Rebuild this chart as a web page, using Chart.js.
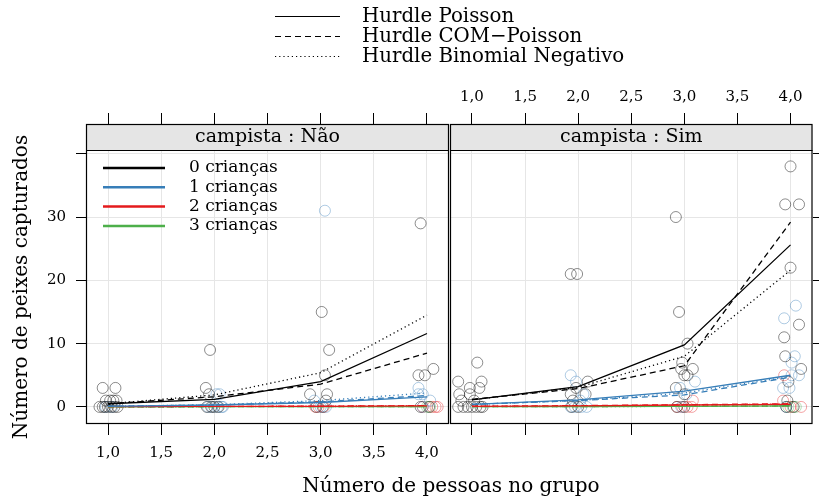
<!DOCTYPE html>
<html>
<head>
<meta charset="utf-8">
<script src="https://cdn.jsdelivr.net/npm/chart.js@4/dist/chart.umd.min.js"></script>
<style>
html, body { margin: 0; padding: 0; background: #fff; }
#wrap { position: relative; width: 819px; height: 500px; }
canvas { position: absolute; left: 0; top: 0; }
</style>
</head>
<body>
<div id="wrap">
  <canvas id="painelNao" width="819" height="500"></canvas>
  <canvas id="painelSim" width="819" height="500"></canvas>
</div>
<script>
// eixo x: número de pessoas no grupo
const pessoas = [1, 2, 3, 4];
const xTicks = [1, 1.5, 2, 2.5, 3, 3.5, 4];
const yTicks = [0, 10, 20, 30, 40];

const criancas = ["0 crianças", "1 crianças", "2 crianças", "3 crianças"];
const modelos = ["Hurdle Poisson", "Hurdle COM\u2212Poisson", "Hurdle Binomial Negativo"];
const paineis = ["campista : Não", "campista : Sim"];

// valores preditos (uma linha por nº de crianças)
const naoPoisson = [[0.5, 1.2, 4.0, 11.6], [0.1, 0.3, 0.7, 1.6], [0.05, 0.07, 0.1, 0.15], [0.02, 0.03, 0.04, 0.05]];
const naoComPoisson = [[0.5, 1.6, 3.6, 8.5], [0.1, 0.3, 0.8, 1.8], [0.05, 0.08, 0.12, 0.2], [0.02, 0.03, 0.04, 0.06]];
const naoBinNeg = [[0.5, 1.9, 5.4, 14.5], [0.1, 0.35, 1.0, 2.2], [0.05, 0.08, 0.12, 0.2], [0.02, 0.03, 0.04, 0.06]];
const simPoisson = [[1.1, 3.2, 9.8, 25.6], [0.4, 1.1, 2.5, 5.0], [0.1, 0.15, 0.3, 0.4], [0.05, 0.05, 0.08, 0.15]];
const simComPoisson = [[1.2, 2.9, 6.5, 29.2], [0.4, 1.0, 1.9, 4.7], [0.1, 0.2, 0.35, 0.5], [0.05, 0.06, 0.09, 0.15]];
const simBinNeg = [[1.1, 3.1, 8.0, 21.6], [0.4, 1.0, 2.2, 4.8], [0.1, 0.15, 0.3, 0.45], [0.05, 0.05, 0.08, 0.15]];

// observações (pessoas com jitter, peixes)
const naoObs0 = [[0.95, 3], [1.07, 3], [0.98, 1], [1.02, 1], [1.05, 1], [1.08, 1], [0.92, 0], [0.95, 0], [0.97, 0], [1.0, 0], [1.03, 0], [1.06, 0], [1.09, 0],
  [1.96, 9], [1.92, 3], [1.95, 2], [1.93, 0], [1.97, 0], [2.0, 0], [2.04, 0],
  [3.01, 15], [3.08, 9], [3.04, 5], [2.9, 2], [3.06, 2], [3.05, 1], [2.96, 0], [3.02, 0],
  [3.94, 29], [3.92, 5], [3.98, 5], [4.06, 6], [3.94, 0], [4.02, 0]];
const naoObs1 = [[0.98, 0], [1.04, 0], [2.02, 2], [2.05, 2], [1.94, 0], [1.98, 0], [2.03, 0], [2.07, 0], [2.08, 0],
  [3.04, 31], [2.94, 1], [3.0, 0], [3.05, 0], [3.92, 3], [3.92, 2], [3.96, 2], [4.03, 1], [3.96, 0]];
const naoObs2 = [[2.95, 0], [2.98, 0], [3.03, 0], [3.96, 0], [4.05, 0], [4.08, 0], [4.1, 0]];
const naoObs3 = [[4.0, 0], [4.03, 0]];

const simObs0 = [[1.05, 7], [0.87, 4], [1.09, 4], [0.98, 3], [1.07, 3], [0.88, 2], [0.98, 2], [0.9, 1], [1.02, 1], [0.87, 0], [0.92, 0], [0.96, 0], [1.0, 0], [1.04, 0], [1.08, 0], [1.1, 0],
  [1.93, 21], [1.99, 21], [2.09, 4], [1.98, 3], [1.93, 2], [2.07, 2], [1.95, 1], [1.94, 0], [2.0, 0],
  [2.92, 30], [2.95, 15], [3.03, 10], [2.98, 7], [2.97, 6], [3.08, 6], [3.0, 5], [3.03, 5], [2.92, 3], [3.0, 2], [2.93, 0], [3.0, 0],
  [4.0, 38], [3.95, 32], [4.08, 32], [4.0, 22], [4.08, 13], [3.94, 11], [3.95, 8], [4.1, 6], [3.98, 4], [3.97, 1], [3.96, 0], [4.03, 0]];
const simObs1 = [[1.93, 5], [1.98, 4], [2.05, 2], [2.02, 1], [1.93, 0], [1.97, 0], [2.03, 0], [2.08, 0],
  [3.1, 4], [2.96, 3], [3.02, 2], [2.97, 0],
  [4.05, 16], [3.94, 14], [4.04, 8], [4.01, 7], [4.01, 5], [4.08, 5], [3.93, 3], [3.99, 3], [3.96, 0]];
const simObs2 = [[3.08, 1], [2.93, 0], [2.98, 0], [3.03, 0], [3.07, 0], [3.94, 5], [3.93, 1], [4.1, 0], [4.0, 0]];
const simObs3 = [[3.98, 0], [4.02, 0], [4.05, 0]];

const cores = ["#000000", "#377EB8", "#E41A1C", "#4DAF4A"];
const coresPontos = ["rgba(0,0,0,0.45)", "rgba(55,126,184,0.4)", "rgba(228,26,28,0.4)", "rgba(77,175,74,0.4)"];
const tracos = [[], [6, 4], [1.2, 3]];

const FONTE = "'DejaVu Serif', serif";
const X_MIN = 0.793, X_MAX = 4.207, Y_MIN = -2.7, Y_MAX = 44.7;

function virgula(v) {
    return v.toFixed(1).replace(".", ",");
}

function buildDatasets(modelData, obs) {
    const ds = [];
    // linhas dos modelos primeiro (ficam por cima)
    modelData.forEach((modelo, m) => {
        modelo.forEach((vals, c) => {
            ds.push({
                data: pessoas.map((p, i) => ({ x: p, y: vals[i] })),
                showLine: true,
                borderColor: cores[c],
                borderWidth: 1.3,
                borderDash: tracos[m],
                pointRadius: 0,
                fill: false
            });
        });
    });
    obs.forEach((pts, c) => {
        ds.push({
            data: pts.map(p => ({ x: p[0], y: p[1] })),
            showLine: false,
            pointRadius: 5.5,
            pointBorderWidth: 1,
            pointBorderColor: coresPontos[c],
            pointBackgroundColor: "rgba(0,0,0,0)"
        });
    });
    return ds;
}

// faixa do painel + moldura
function stripPlugin(titulo) {
    return {
        id: "strip",
        afterDatasetsDraw(chart) {
            const ctx = chart.ctx;
            const a = chart.chartArea;
            ctx.save();
            ctx.fillStyle = "#e5e5e5";
            ctx.fillRect(a.left, a.top, a.right - a.left, 26);
            ctx.strokeStyle = "#000";
            ctx.lineWidth = 1.2;
            ctx.beginPath();
            ctx.moveTo(a.left, a.top + 26.5);
            ctx.lineTo(a.right, a.top + 26.5);
            ctx.stroke();
            ctx.strokeRect(a.left + 0.5, a.top + 0.5, a.right - a.left - 1, a.bottom - a.top - 1);
            ctx.fillStyle = "#000";
            ctx.font = "19px " + FONTE;
            ctx.textAlign = "center";
            ctx.textBaseline = "middle";
            ctx.fillText(titulo, (a.left + a.right) / 2, a.top + 13);
            ctx.restore();
        }
    };
}

// legendas e títulos dos eixos
const extrasPlugin = {
    id: "extras",
    afterDraw(chart) {
        const ctx = chart.ctx;
        ctx.save();
        ctx.fillStyle = "#000";
        ctx.textBaseline = "middle";
        ctx.textAlign = "left";

        // legenda dos modelos (topo)
        ctx.font = "19.8px " + FONTE;
        modelos.forEach((nome, i) => {
            const y = 17 + i * 20;
            ctx.strokeStyle = "#000";
            ctx.lineWidth = 1;
            ctx.setLineDash(tracos[i]);
            ctx.beginPath();
            ctx.moveTo(275, y - 0.5);
            ctx.lineTo(340, y - 0.5);
            ctx.stroke();
            ctx.setLineDash([]);
            ctx.fillText(nome, 362, y);
        });

        // legenda das crianças (dentro do painel)
        ctx.font = "17px " + FONTE;
        criancas.forEach((nome, i) => {
            const y = 168 + i * 19.3;
            ctx.strokeStyle = cores[i];
            ctx.lineWidth = 2.5;
            ctx.beginPath();
            ctx.moveTo(103, y);
            ctx.lineTo(165, y);
            ctx.stroke();
            ctx.fillText(nome, 189, y);
        });

        // títulos dos eixos
        ctx.font = "20px " + FONTE;
        ctx.textAlign = "center";
        ctx.fillText("Número de pessoas no grupo", 451, 487);
        ctx.translate(22, 287);
        ctx.rotate(-Math.PI / 2);
        ctx.fillText("Número de peixes capturados", 0, 0);
        ctx.restore();
    }
};

function setTicks(list) {
    return function (scale) {
        scale.ticks = list.map(v => ({ value: v }));
    };
}

function createPanel(id, esquerdo, modelData, obs, titulo) {
    const tickFont = { family: FONTE, size: 15 };
    const gridLight = { color: "#e6e6e6", lineWidth: 1, tickColor: "#000", tickWidth: 1, tickLength: 11 };
    const ctx = document.getElementById(id).getContext("2d");
    return new Chart(ctx, {
        type: "scatter",
        data: { datasets: buildDatasets(modelData, obs) },
        options: {
            responsive: false,
            animation: false,
            events: [],
            layout: {
                padding: esquerdo
                    ? { left: 26, right: 370, top: 74, bottom: 26 }
                    : { left: 450, right: 0, top: 74, bottom: 26 }
            },
            plugins: { legend: { display: false }, tooltip: { enabled: false } },
            scales: {
                x: {
                    type: "linear", position: "bottom", min: X_MIN, max: X_MAX,
                    afterBuildTicks: setTicks(xTicks),
                    afterFit: s => { s.height = 50; },
                    grid: gridLight,
                    border: { display: false },
                    ticks: {
                        autoSkip: false, maxRotation: 0, padding: 9, color: "#000", font: tickFont,
                        callback: v => esquerdo ? virgula(v) : ""
                    }
                },
                x2: {
                    type: "linear", position: "top", min: X_MIN, max: X_MAX,
                    afterBuildTicks: setTicks(xTicks),
                    afterFit: s => { s.height = 50; },
                    grid: { drawOnChartArea: false, color: "#000", tickLength: 11 },
                    border: { display: false },
                    ticks: {
                        autoSkip: false, maxRotation: 0, padding: 7, color: "#000", font: tickFont,
                        callback: v => esquerdo ? "" : virgula(v)
                    }
                },
                y: {
                    type: "linear", position: esquerdo ? "left" : "right", min: Y_MIN, max: Y_MAX,
                    afterBuildTicks: setTicks(yTicks),
                    afterFit: s => { s.width = esquerdo ? 60 : 6; },
                    grid: Object.assign({}, gridLight, { tickLength: 10 }),
                    border: { display: false },
                    ticks: {
                        padding: 10, color: "#000", font: tickFont,
                        callback: v => (esquerdo && v < 40) ? String(v) : ""
                    }
                }
            }
        },
        plugins: esquerdo ? [stripPlugin(titulo), extrasPlugin] : [stripPlugin(titulo)]
    });
}

createPanel("painelNao", true, [naoPoisson, naoComPoisson, naoBinNeg], [naoObs0, naoObs1, naoObs2, naoObs3], paineis[0]);
createPanel("painelSim", false, [simPoisson, simComPoisson, simBinNeg], [simObs0, simObs1, simObs2, simObs3], paineis[1]);
</script>
</body>
</html>
